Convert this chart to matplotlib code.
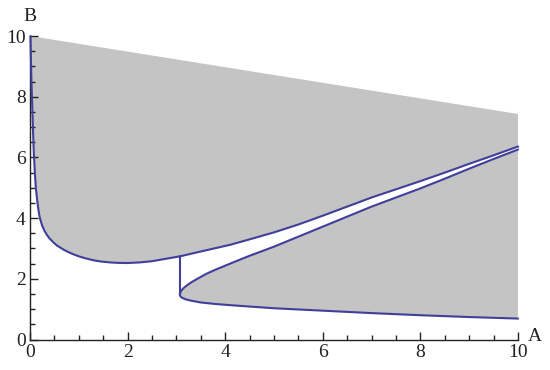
import matplotlib
matplotlib.use('Agg')
import matplotlib.pyplot as plt
from matplotlib.ticker import MultipleLocator

plt.rcParams['font.family'] = ['Liberation Serif', 'DejaVu Serif']

# values
top_x = [0.0, 10.0]
top_y = [10.0, 7.43]

upper_x = [0.01, 0.02, 0.03, 0.04, 0.05, 0.06, 0.07, 0.08, 0.1, 0.12, 0.15, 0.18, 0.2,
           0.25, 0.3, 0.35, 0.4, 0.48, 0.55, 0.61, 0.7, 0.8, 0.9, 1.02, 1.15, 1.3, 1.45,
           1.64, 1.8, 2.0, 2.25, 2.5, 2.75, 3.07, 3.5, 4.1, 4.5, 5.0, 5.5, 6.0, 6.5, 7.0,
           7.5, 8.0, 8.5, 9.0, 9.5, 10.0]
upper_y = [10.0, 9.2, 8.5, 8.0, 7.5, 7.0, 6.5, 6.1, 5.5, 5.0, 4.55, 4.2, 4.02,
           3.75, 3.57, 3.44, 3.33, 3.2, 3.1, 3.04, 2.95, 2.87, 2.8, 2.73, 2.67, 2.61, 2.57,
           2.54, 2.525, 2.52, 2.54, 2.58, 2.65, 2.74, 2.9, 3.12, 3.3, 3.53, 3.79, 4.08, 4.38, 4.68,
           4.95, 5.22, 5.5, 5.79, 6.07, 6.36]

branch_hi_x = [3.07, 3.08, 3.1, 3.15, 3.22, 3.3, 3.45, 3.62, 3.8, 4.1, 4.5, 5.0, 5.5,
               6.0, 6.5, 7.0, 7.5, 8.0, 8.5, 9.0, 9.5, 10.0]
branch_hi_y = [1.48, 1.55, 1.61, 1.70, 1.79, 1.88, 2.02, 2.17, 2.3, 2.5, 2.76, 3.06, 3.39,
               3.72, 4.05, 4.38, 4.68, 4.98, 5.3, 5.63, 5.95, 6.26]

branch_lo_x = [3.07, 3.08, 3.1, 3.15, 3.22, 3.3, 3.5, 3.8, 4.2, 5.0, 6.0, 7.0, 8.0, 9.0, 10.0]
branch_lo_y = [1.48, 1.43, 1.39, 1.35, 1.31, 1.28, 1.22, 1.17, 1.12, 1.03, 0.95, 0.87, 0.8, 0.74, 0.69]

jump_x = [3.07, 3.07]
jump_y = [1.48, 2.74]

gray = '#c4c4c4'
blue = '#3f3f9c'

fig = plt.figure(figsize=(5.5, 3.7), dpi=100)
ax = fig.add_axes([0.0545, 0.0824, 0.8875, 0.8203])

# gray regions
ax.fill(top_x + upper_x[::-1], top_y + upper_y[::-1], color=gray, lw=0, zorder=1)
ax.fill(branch_hi_x + branch_lo_x[::-1], branch_hi_y + branch_lo_y[::-1],
        color=gray, lw=0, zorder=1)

# blue boundary curves
for xs, ys in [(upper_x, upper_y), (branch_hi_x, branch_hi_y),
               (branch_lo_x, branch_lo_y), (jump_x, jump_y)]:
    ax.plot(xs, ys, color=blue, lw=1.5, zorder=3, clip_on=False,
            solid_joinstyle='round', solid_capstyle='round')

ax.set_xlim(0, 10)
ax.set_ylim(0, 10)
for s in ['top', 'right']:
    ax.spines[s].set_visible(False)
for s in ['left', 'bottom']:
    ax.spines[s].set_linewidth(1.0)
    ax.spines[s].set_color('#222222')

ax.xaxis.set_major_locator(MultipleLocator(2))
ax.xaxis.set_minor_locator(MultipleLocator(0.5))
ax.yaxis.set_major_locator(MultipleLocator(2))
ax.yaxis.set_minor_locator(MultipleLocator(0.5))
ax.tick_params(which='major', direction='in', length=6, width=1, color='#222222',
               labelsize=14, labelcolor='#222222')
ax.tick_params(which='minor', direction='in', length=3.5, width=1, color='#222222')
ax.tick_params(axis='x', pad=3)
ax.tick_params(axis='y', pad=3)

ax.text(10.2, 0.1, 'A', fontsize=14, color='#222222', ha='left', va='center')
ax.text(0.0, 10.35, 'B', fontsize=14, color='#222222', ha='center', va='bottom')

fig.savefig('out.png', dpi=100)
